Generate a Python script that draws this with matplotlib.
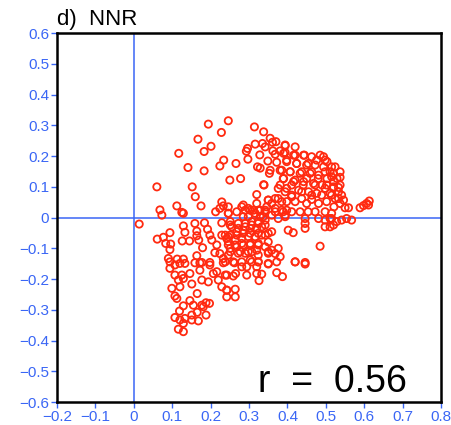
import matplotlib
matplotlib.use('Agg')
import matplotlib.pyplot as plt
import numpy as np

plt.rcParams['font.family'] = ['Liberation Sans', 'DejaVu Sans']

# points (x, y)
x_upper = [0.194, 0.246, 0.228, 0.167, 0.201, 0.183, 0.117, 0.234, 0.224, 0.141,
           0.183, 0.250, 0.060, 0.152, 0.314, 0.338, 0.355, 0.370, 0.361, 0.316,
           0.335, 0.342, 0.394, 0.296, 0.293, 0.362, 0.381, 0.394, 0.328, 0.368,
           0.297, 0.349, 0.372, 0.266, 0.322, 0.329, 0.355, 0.381, 0.353, 0.278,
           0.338, 0.420, 0.444, 0.494, 0.498, 0.398, 0.424, 0.454, 0.476, 0.515,
           0.407, 0.437, 0.463, 0.498, 0.389, 0.420, 0.450, 0.480, 0.515, 0.381,
           0.411, 0.441, 0.472, 0.502, 0.520, 0.537, 0.521, 0.533]
y_upper = [0.304, 0.315, 0.277, 0.255, 0.232, 0.215, 0.209, 0.187, 0.168, 0.163,
           0.152, 0.122, 0.100, 0.100, 0.295, 0.279, 0.258, 0.247, 0.245, 0.239,
           0.241, 0.230, 0.234, 0.225, 0.216, 0.217, 0.217, 0.212, 0.204, 0.206,
           0.190, 0.184, 0.180, 0.176, 0.165, 0.161, 0.154, 0.154, 0.144, 0.127,
           0.107, 0.203, 0.203, 0.198, 0.187, 0.187, 0.176, 0.176, 0.187, 0.165,
           0.149, 0.149, 0.149, 0.149, 0.127, 0.122, 0.127, 0.127, 0.133, 0.106,
           0.106, 0.106, 0.106, 0.106, 0.144, 0.131, 0.117, 0.098]

x_left = [0.160, 0.229, 0.175, 0.112, 0.068, 0.073, 0.125, 0.129, 0.213, 0.224,
          0.233, 0.246, 0.014, 0.129, 0.159, 0.184, 0.229, 0.094, 0.133, 0.164,
          0.192, 0.061, 0.077, 0.164, 0.198, 0.229, 0.083, 0.096, 0.126, 0.145,
          0.169, 0.203, 0.216, 0.242, 0.094, 0.179, 0.211, 0.224, 0.090, 0.113,
          0.129, 0.164, 0.198, 0.177, 0.233]
y_left = [0.068, 0.051, 0.038, 0.038, 0.025, 0.008, 0.017, 0.014, 0.019, 0.030,
          0.038, 0.014, -0.021, -0.027, -0.019, -0.017, -0.017, -0.049, -0.048, -0.044,
          -0.038, -0.070, -0.064, -0.059, -0.057, -0.057, -0.084, -0.086, -0.076, -0.076,
          -0.073, -0.073, -0.089, -0.068, -0.104, -0.098, -0.114, -0.117, -0.133, -0.135,
          -0.135, -0.124, -0.146, -0.146, -0.133]

x_mid = [0.320, 0.339, 0.376, 0.394, 0.411, 0.437, 0.463, 0.489, 0.515, 0.498,
         0.368, 0.385, 0.420, 0.450, 0.481, 0.502, 0.350, 0.359, 0.346, 0.329,
         0.311, 0.298, 0.285, 0.290, 0.268, 0.246, 0.316, 0.342, 0.368, 0.389,
         0.411, 0.433, 0.454, 0.472, 0.498, 0.515, 0.337, 0.394, 0.446, 0.481,
         0.498, 0.511, 0.251, 0.255, 0.272, 0.290, 0.307, 0.324, 0.342, 0.402,
         0.415, 0.446, 0.446, 0.498, 0.511, 0.485, 0.238, 0.251, 0.268, 0.285,
         0.303, 0.320, 0.333, 0.246, 0.264, 0.281, 0.298, 0.316, 0.333, 0.350,
         0.251, 0.268, 0.285, 0.303, 0.324, 0.342, 0.359, 0.376, 0.246, 0.272,
         0.290, 0.307, 0.324, 0.350, 0.381, 0.259, 0.281, 0.303, 0.324, 0.350,
         0.420, 0.446]
y_mid = [0.075, 0.106, 0.095, 0.084, 0.073, 0.084, 0.073, 0.073, 0.073, 0.095,
         0.062, 0.052, 0.052, 0.046, 0.046, 0.052, 0.057, 0.046, 0.035, 0.024,
         0.024, 0.030, 0.041, 0.024, 0.019, 0.035, 0.014, 0.019, 0.019, 0.019,
         0.019, 0.019, 0.019, 0.019, 0.019, 0.014, 0.003, 0.003, -0.003, -0.003,
         -0.008, -0.003, -0.013, -0.030, -0.019, -0.019, -0.013, -0.013, -0.008, -0.041,
         -0.049, -0.019, -0.035, -0.030, -0.030, -0.093, -0.057, -0.057, -0.046, -0.041,
         -0.035, -0.035, -0.030, -0.078, -0.073, -0.068, -0.062, -0.062, -0.057, -0.051,
         -0.100, -0.095, -0.089, -0.089, -0.084, -0.095, -0.106, -0.100, -0.122, -0.116,
         -0.116, -0.111, -0.122, -0.116, -0.127, -0.144, -0.144, -0.138, -0.144, -0.149,
         -0.144, -0.146]

x_right = [0.520, 0.533, 0.541, 0.524, 0.546, 0.521, 0.537, 0.550, 0.559, 0.589,
           0.598, 0.606, 0.613, 0.611, 0.515, 0.528, 0.541, 0.554, 0.567, 0.520]
y_right = [0.097, 0.084, 0.073, 0.062, 0.057, 0.035, 0.046, 0.032, 0.032, 0.032,
           0.039, 0.046, 0.054, 0.041, -0.003, -0.013, -0.008, -0.003, -0.008, -0.024]

x_low = [0.094, 0.107, 0.120, 0.133, 0.159, 0.172, 0.198, 0.233, 0.094, 0.107,
         0.125, 0.146, 0.172, 0.207, 0.216, 0.242, 0.116, 0.129, 0.177, 0.194,
         0.151, 0.220, 0.229, 0.099, 0.120, 0.242, 0.165, 0.107, 0.112, 0.129,
         0.146, 0.155, 0.177, 0.188, 0.197, 0.119, 0.181, 0.165, 0.107, 0.120,
         0.133, 0.151, 0.151, 0.168, 0.188, 0.129, 0.116, 0.129,
         0.238, 0.262, 0.281, 0.294, 0.307, 0.324, 0.320, 0.350, 0.372, 0.420,
         0.446, 0.238, 0.259, 0.265, 0.294, 0.320, 0.333, 0.326, 0.372, 0.387,
         0.242, 0.264, 0.242, 0.264]
y_low = [-0.144, -0.154, -0.149, -0.149, -0.147, -0.147, -0.154, -0.147, -0.165, -0.187,
         -0.187, -0.182, -0.171, -0.182, -0.176, -0.187, -0.203, -0.198, -0.203, -0.209,
         -0.216, -0.203, -0.225, -0.230, -0.225, -0.236, -0.247, -0.255, -0.263, -0.287,
         -0.270, -0.285, -0.285, -0.277, -0.279, -0.304, -0.290, -0.308, -0.325, -0.333,
         -0.328, -0.317, -0.333, -0.336, -0.317, -0.344, -0.363, -0.371,
         -0.144, -0.147, -0.160, -0.160, -0.144, -0.144, -0.160, -0.151, -0.144, -0.144,
         -0.151, -0.187, -0.190, -0.182, -0.187, -0.182, -0.184, -0.205, -0.179, -0.192,
         -0.236, -0.233, -0.258, -0.258]

x_dense = [0.394, 0.420, 0.442, 0.463, 0.485, 0.503, 0.524, 0.537, 0.390, 0.416,
           0.398, 0.424, 0.450, 0.472, 0.494, 0.511, 0.385, 0.407, 0.433, 0.459,
           0.481, 0.503, 0.529, 0.390, 0.416, 0.442, 0.468, 0.490, 0.520, 0.537,
           0.398, 0.429, 0.455, 0.476, 0.511, 0.533, 0.411, 0.437, 0.463,
           0.320, 0.350, 0.376, 0.398, 0.246, 0.281, 0.303, 0.324, 0.342, 0.368,
           0.385, 0.398, 0.285, 0.298, 0.329, 0.359, 0.376, 0.394, 0.251, 0.272,
           0.290, 0.307, 0.324, 0.342, 0.246, 0.268, 0.285, 0.303, 0.324, 0.342,
           0.359, 0.246, 0.264, 0.281, 0.303, 0.324, 0.350, 0.251, 0.277, 0.298,
           0.320, 0.350, 0.368]
y_dense = [0.236, 0.230, 0.203, 0.198, 0.203, 0.182, 0.165, 0.149, 0.209, 0.203,
           0.182, 0.176, 0.171, 0.171, 0.165, 0.149, 0.154, 0.149, 0.144, 0.144,
           0.138, 0.127, 0.127, 0.127, 0.117, 0.117, 0.111, 0.106, 0.100, 0.106,
           0.095, 0.089, 0.084, 0.079, 0.079, 0.062, 0.068, 0.062, 0.059,
           0.046, 0.057, 0.062, 0.052, 0.014, 0.035, 0.024, 0.024, 0.024, 0.030,
           0.024, 0.024, 0.003, 0.003, 0.003, 0.008, -0.003, 0.008, -0.024, -0.035,
           -0.030, -0.024, -0.019, -0.024, -0.062, -0.057, -0.051, -0.051, -0.051, -0.057,
           -0.046, -0.089, -0.089, -0.084, -0.084, -0.089, -0.079, -0.111, -0.111, -0.111,
           -0.106, -0.111, -0.117]

xs = np.array(x_upper + x_left + x_mid + x_right + x_low + x_dense)
ys = np.array(y_upper + y_left + y_mid + y_right + y_low + y_dense)

blue = '#3a66f5'
red = '#ff2a10'

fig = plt.figure(figsize=(4.51, 4.25), dpi=100)
ax = fig.add_axes([0.1264, 0.054, 0.8516, 0.868])

ax.axvline(0, color=blue, lw=1.1, zorder=1)
ax.axhline(0, color=blue, lw=1.1, zorder=1)
ax.scatter(xs, ys, s=27, facecolors='none', edgecolors=red, linewidths=1.3, zorder=2)

ax.set_xlim(-0.2, 0.8)
ax.set_ylim(-0.6, 0.6)
ax.set_xticks(np.arange(-0.2, 0.81, 0.1))
ax.set_yticks(np.arange(-0.6, 0.61, 0.1))
ax.set_xticklabels(['\u22120.2', '\u22120.1', '0', '0.1', '0.2', '0.3', '0.4', '0.5', '0.6', '0.7', '0.8'])
ax.set_yticklabels(['\u22120.6', '\u22120.5', '\u22120.4', '\u22120.3', '\u22120.2', '\u22120.1', '0',
                    '0.1', '0.2', '0.3', '0.4', '0.5', '0.6'])
ax.tick_params(direction='out', length=4, width=1, color=blue, labelcolor=blue,
               labelsize=11, pad=1.5)
for sp in ax.spines.values():
    sp.set_linewidth(1.8)
    sp.set_color('black')

ax.text(0.0, 1.008, 'd)  NNR', transform=ax.transAxes, fontsize=16,
        ha='left', va='bottom', color='black')
ax.text(0.712, -0.535, 'r  =  0.56', fontsize=27, ha='right', va='center', color='black')

fig.savefig('out.png', dpi=100)
